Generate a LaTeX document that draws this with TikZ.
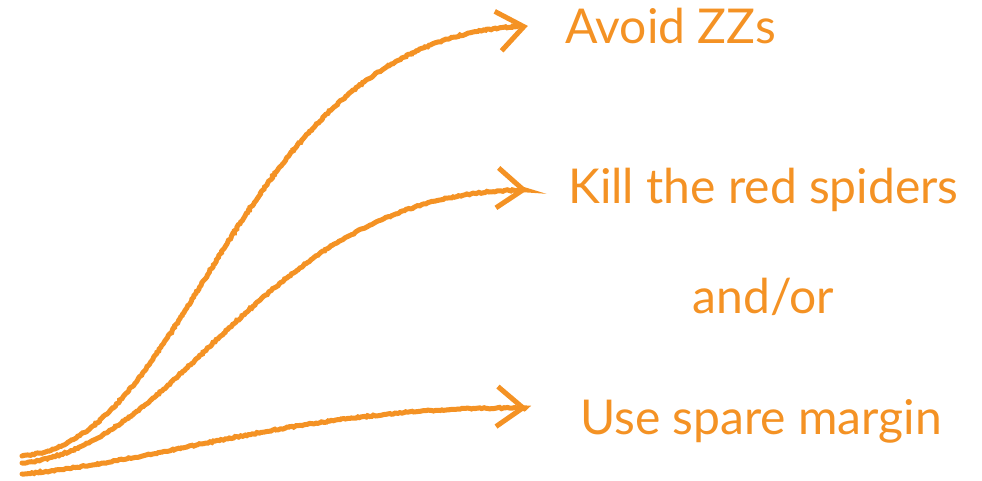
\documentclass[tikz,border=0pt]{standalone}
\usepackage{fontspec}
\setmainfont{Lato}
\usetikzlibrary{positioning, arrows.meta, decorations.pathmorphing}
\definecolor{chalk}{RGB}{244,146,36}

\begin{document}
\begin{tikzpicture}[x=1pt, y=1pt,
  every node/.style={text=chalk, font=\fontsize{48}{54}\selectfont, inner sep=0pt},
  crayon/.style={draw=chalk, line width=5pt, line cap=round,
    -{Straight Barb[length=26pt, width=40pt, line width=5pt]},
    decorate, decoration={random steps, segment length=2pt, amplitude=0.7pt}}]
\useasboundingbox (0,0) rectangle (982,481);
\coordinate (s1) at (22,25);
\coordinate (s2) at (22,18);
\coordinate (s3) at (22,7);
\coordinate (t1) at (526,455);
\coordinate (t2) at (526,291);
\coordinate (t3) at (526,73);
\node[right=39pt of t1] (avoid) {Avoid ZZs};
\node[right=42pt of t2] (kill) {Kill the red spiders};
\node[below=66pt of kill] (andor) {and/or};
\node[right=54pt of t3, yshift=-13pt] (spare) {Use spare margin};
\draw[crayon] (s1) .. controls (200,40) and (230,445) .. (t1);
\draw[crayon] (s2) .. controls (190,35) and (260,290) .. (t2);
\draw[crayon] (s3) .. controls (170,20) and (300,75) .. (t3);
\end{tikzpicture}
\end{document}
